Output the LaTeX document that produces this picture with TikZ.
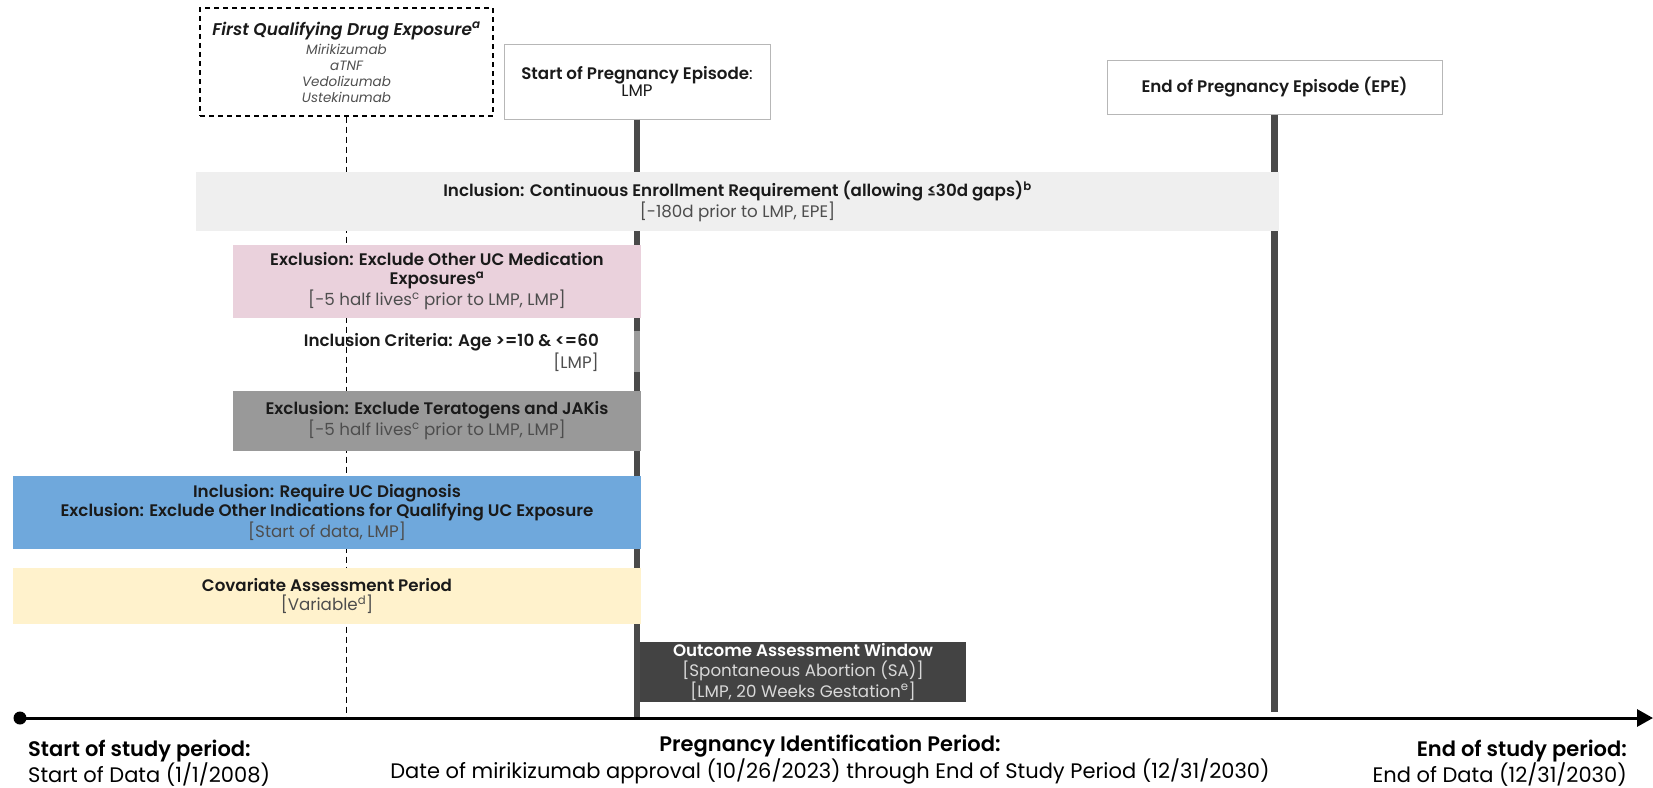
\documentclass[tikz,border=0pt]{standalone}
\usepackage{fontspec}
\IfFontExistsTF{Poppins SemiBold}
  {\setmainfont{Poppins}[BoldFont={Poppins SemiBold},BoldItalicFont={Poppins SemiBold Italic}]}
  {\setmainfont{Poppins}}
\newfontfamily\symfont{DejaVu Sans}
\usetikzlibrary{arrows.meta}

\definecolor{ink}{HTML}{1A1A1A}
\definecolor{subtxt}{HTML}{4D4D4D}
\definecolor{drugtxt}{HTML}{505050}
\definecolor{enrollfill}{HTML}{EFEFEF}
\definecolor{pinkfill}{HTML}{EAD1DC}
\definecolor{grayfill}{HTML}{999999}
\definecolor{bluefill}{HTML}{6FA8DC}
\definecolor{yellowfill}{HTML}{FFF2CC}
\definecolor{outfill}{HTML}{434343}
\definecolor{outsub}{HTML}{D9D9D9}
\definecolor{boxline}{HTML}{B7B7B7}
\definecolor{epochline}{HTML}{4A4A4A}

% bracketed time window under a criterion
\newcommand\rng[1]{{\color{subtxt}\mdseries #1}}
\newcommand\leqsign{\iffontchar\font"2264 ≤\else{\symfont ≤}\fi}
% one drug name in the exposure box
\newcommand\drug[1]{{\color{drugtxt}\itshape #1}}

\begin{document}
\begin{tikzpicture}[x=1pt,y=-1pt,
  bartxt/.style={font=\fontsize{16.7}{19.5}\selectfont},
  bar/.style={rectangle, draw=none, inner sep=0pt, align=center, text=ink, bartxt},
  epochbox/.style={rectangle, draw=boxline, line width=1pt, fill=white, inner sep=0pt, align=center, text=ink, bartxt},
  drugbox/.style={rectangle, draw=black, line width=1.4pt, dash pattern=on 5pt off 4pt, fill=white,
    inner sep=0pt, align=center, text=ink, font=\fontsize{13.5}{16}\selectfont},
  epoch/.style={draw=epochline, line width=6.5pt},
  guide/.style={draw=black, line width=1pt, dash pattern=on 6pt off 4pt},
  periodlabel/.style={font=\fontsize{21}{25.5}\selectfont, text=black, inner sep=0pt},
]
\useasboundingbox (0,0) rectangle (1653,787);

% ---- top boxes ----
\node[drugbox, minimum width=293pt, minimum height=108pt] (fqde) at (346.5,62)
  {{\fontsize{17}{19}\bfseries\itshape First Qualifying Drug Exposure\textsuperscript{a}}\\[3pt]
   \drug{Mirikizumab}\\
   \drug{aTNF}\\
   \drug{Vedolizumab}\\
   \drug{Ustekinumab}};

\node[epochbox, minimum width=266pt, minimum height=75pt] (lmp) at (637,81.5)
  {{\bfseries Start of Pregnancy Episode}:\\[-2.5pt]LMP};

\node[epochbox, minimum width=335pt, minimum height=54pt] (epe) at (1274.5,87)
  {\bfseries End of Pregnancy Episode (EPE)};

% ---- axis reference points ----
\coordinate (axL) at (20,718);
\coordinate (axR) at (1653,718);
\coordinate (lmpfoot) at (637,718);
\coordinate (epefoot) at (1274.5,712);

% ---- vertical markers ----
\draw[guide] (fqde.south) -- (fqde.south |- axL);
\draw[epoch] (lmp.south) -- (lmpfoot);
\draw[epoch] (epe.south) -- (epefoot);
\fill[white, opacity=0.45] (632,331) rectangle (642,372);

% ---- criteria bars ----
\node[bar, fill=enrollfill, minimum width=1083pt, minimum height=59pt] (enroll) at (737.5,201.5)
  {{\bfseries Inclusion: Continuous Enrollment Requirement (allowing \leqsign30d gaps)\textsuperscript{b}}\\
   \rng{[-180d prior to LMP, EPE]}};

\node[bar, fill=pinkfill, minimum width=408pt, minimum height=73pt] (ucmed) at (437,281)
  {{\bfseries Exclusion: Exclude Other UC Medication}\\
   {\bfseries Exposures\textsuperscript{a}}\\
   \rng{[-5 half lives\textsuperscript{c} prior to LMP, LMP]}};

\node[bar, anchor=east, align=right] (age) at (599,352.5)
  {{\bfseries Inclusion Criteria: Age >=10 \& <=60}\\
   \rng{[LMP]}};

\node[bar, fill=grayfill, minimum width=408pt, minimum height=60pt] (terato) at (437,421)
  {{\bfseries Exclusion: Exclude Teratogens and JAKis}\\
   \rng{[-5 half lives\textsuperscript{c} prior to LMP, LMP]}};

\node[bar, fill=bluefill, minimum width=628pt, minimum height=73pt] (ucdx) at (327,512.5)
  {{\bfseries Inclusion: Require UC Diagnosis}\\
   {\bfseries Exclusion: Exclude Other Indications for Qualifying UC Exposure}\\
   \rng{[Start of data, LMP]}};

\node[bar, fill=yellowfill, minimum width=628pt, minimum height=56pt] (covar) at (327,596)
  {{\bfseries Covariate Assessment Period}\\
   \rng{[Variable\textsuperscript{d}]}};

\node[bar, fill=outfill, text=white, minimum width=326pt, minimum height=60pt] (outcome) at (803,672)
  {{\bfseries Outcome Assessment Window}\\
   {\color{outsub}[Spontaneous Abortion (SA)]}\\
   {\color{outsub}[LMP, 20 Weeks Gestation\textsuperscript{e}]}};

% ---- study timeline ----
\draw[line width=3pt, -{Triangle[length=16pt,width=17pt]}] (axL) -- (axR);
\fill (axL) circle (6.5pt);

% ---- period labels (anchored on the baseline of their last line) ----
\node[periodlabel, anchor=base west, align=left] (studystart) at (28,782)
  {{\bfseries Start of study period:}\\Start of Data (1/1/2008)};

\node[periodlabel, anchor=base, align=center] (pipwindow) at (830,778)
  {{\bfseries Pregnancy Identification Period:}\\Date of mirikizumab approval (10/26/2023) through End of Study Period (12/31/2030)};

\node[periodlabel, anchor=base east, align=right] (studyend) at (1627,782)
  {{\bfseries End of study period:}\\End of Data (12/31/2030)};
\end{tikzpicture}
\end{document}
